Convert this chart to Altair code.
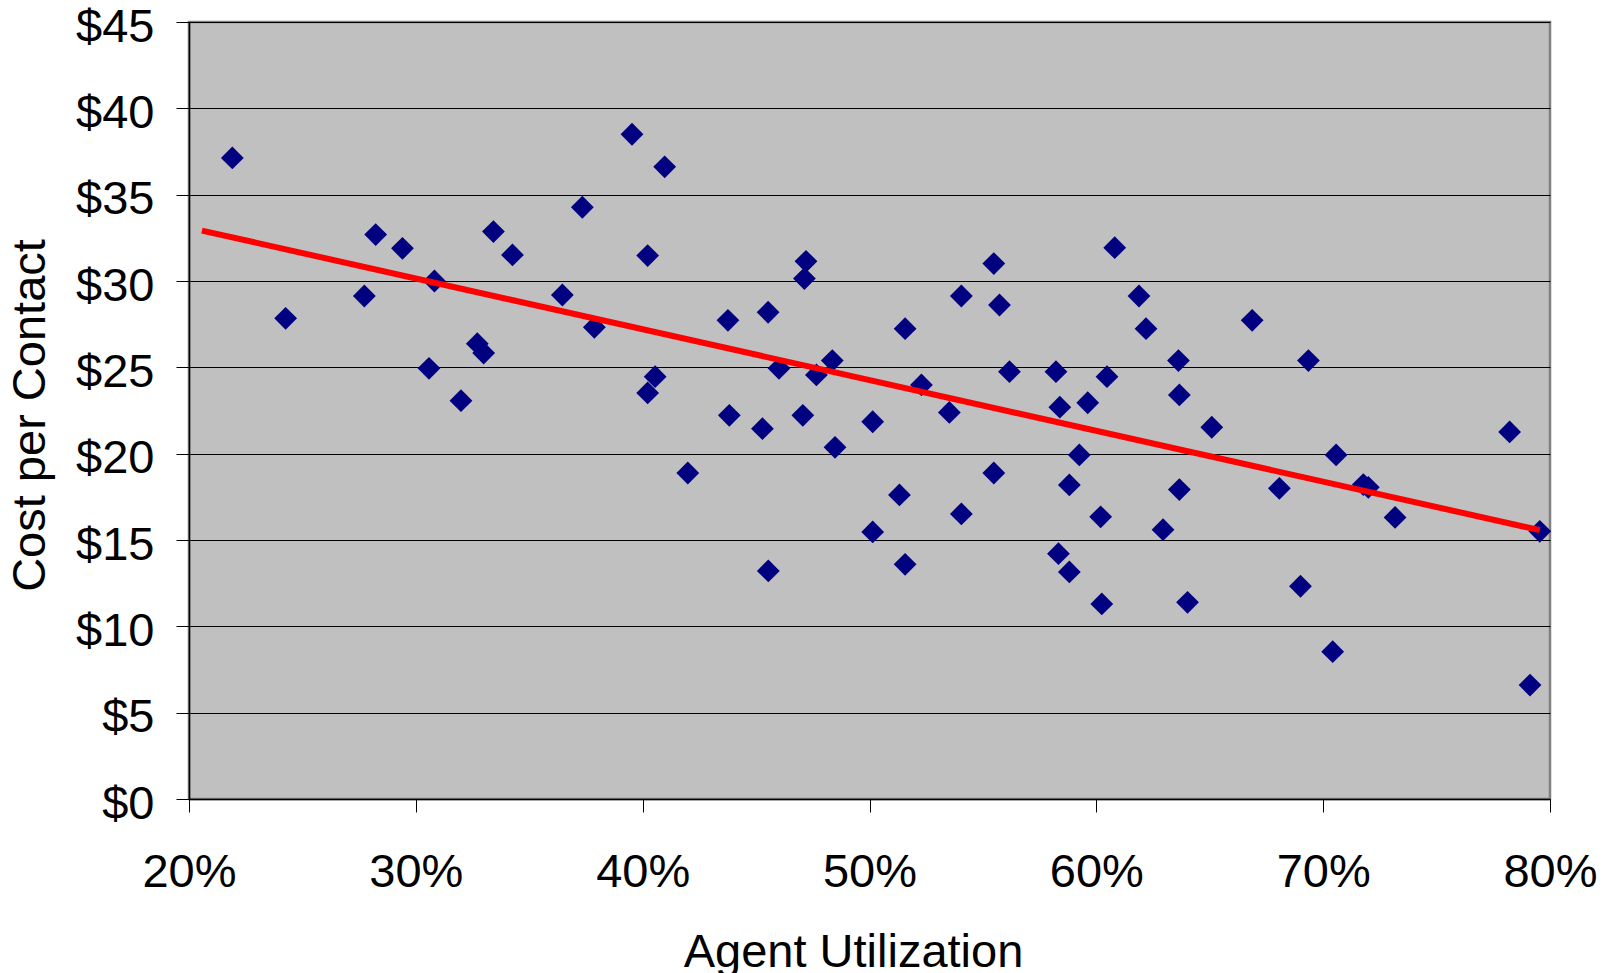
import altair as alt
import pandas as pd

# Agent utilization (%) and cost per contact ($)
utilization = [
    21.91, 24.26, 27.73, 28.23, 29.41, 30.58, 30.82, 31.99, 32.71, 32.99,
    33.42, 34.26, 36.46, 37.34, 37.87, 39.53, 40.22, 40.22, 40.55, 40.97,
    41.99, 43.76, 43.82, 45.28, 45.53, 45.54, 46.01, 47.13, 47.20, 47.06,
    47.66, 48.36, 48.48, 50.14, 50.14, 51.32, 51.57, 51.57, 52.29, 53.52,
    54.05, 54.05, 55.48, 55.48, 55.73, 56.17, 58.22, 58.39, 58.33, 58.81,
    58.81, 59.25, 59.62, 60.19, 60.24, 60.47, 60.81, 61.88, 62.19, 62.94,
    63.62, 63.66, 63.66, 64.02, 65.09, 66.87, 68.07, 69.00, 69.35, 70.42,
    70.57, 71.77, 71.99, 73.17, 78.22, 79.12, 79.55,
]
cost = [
    37.13, 27.84, 29.13, 32.69, 31.89, 24.94, 30.00, 23.07, 26.37, 25.83,
    32.86, 31.51, 29.19, 34.27, 27.32, 38.50, 31.47, 23.52, 24.46, 36.61,
    18.88, 27.72, 22.22, 21.45, 28.19, 13.21, 24.94, 30.14, 31.14, 22.22,
    24.56, 25.39, 20.37, 21.85, 15.47, 17.61, 27.24, 13.59, 23.98, 22.39,
    29.13, 16.51, 31.01, 18.88, 28.61, 24.75, 24.75, 22.69, 14.21, 18.19,
    13.15, 19.93, 22.95, 16.34, 11.30, 24.46, 31.93, 29.13, 27.24, 15.60,
    25.39, 23.40, 17.92, 11.39, 21.53, 27.72, 17.99, 12.32, 25.39, 8.53,
    19.93, 18.21, 18.05, 16.31, 21.26, 6.60, 15.50,
]

# Trend line end points
trend_x = [20.57, 79.55]
trend_y = [32.92, 15.57]

x_ticks = [20, 30, 40, 50, 60, 70, 80]
y_ticks = [0, 5, 10, 15, 20, 25, 30, 35, 40, 45]

points = pd.DataFrame({"util": utilization, "cost": cost})
trend = pd.DataFrame({"util": trend_x, "cost": trend_y})

FONT = "Liberation Sans"

x_scale = alt.Scale(domain=[20, 80], nice=False, zero=False)
y_scale = alt.Scale(domain=[0, 45], nice=False)

x_axis = alt.Axis(
    values=x_ticks,
    labelExpr="datum.value + '%'",
    title="Agent Utilization",
    grid=False,
    tickSize=13,
    tickColor="#000000",
    domainColor="#000000",
    domainWidth=1.5,
    labelFont=FONT,
    labelFontSize=47,
    labelColor="#000000",
    labelPadding=37,
    labelFlush=False,
    titleFont=FONT,
    titleFontSize=47,
    titleFontWeight="normal",
    titleColor="#000000",
    titleX=664,
    titleY=167,
    titleAlign="center",
    titleBaseline="alphabetic",
)

y_axis = alt.Axis(
    values=y_ticks,
    labelExpr="'$' + datum.value",
    title="Cost per Contact",
    grid=True,
    gridColor="#000000",
    gridWidth=1,
    gridOpacity=1,
    tickSize=13,
    tickColor="#000000",
    domainColor="#000000",
    domainWidth=1.5,
    labelFont=FONT,
    labelFontSize=47,
    labelColor="#000000",
    labelPadding=22,
    labelOffset=5,
    labelFlush=False,
    titleFont=FONT,
    titleFontSize=47,
    titleFontWeight="normal",
    titleColor="#000000",
    titleAngle=270,
    titleX=-145,
    titleY=393,
    titleAlign="center",
    titleBaseline="alphabetic",
)

scatter = alt.Chart(points).mark_point(
    shape="diamond", filled=True, size=520, color="#000080", opacity=1
).encode(
    x=alt.X("util:Q", scale=x_scale, axis=x_axis),
    y=alt.Y("cost:Q", scale=y_scale, axis=y_axis),
)

line = alt.Chart(trend).mark_line(color="#FF0000", strokeWidth=6).encode(
    x=alt.X("util:Q", scale=x_scale),
    y=alt.Y("cost:Q", scale=y_scale),
)

chart = alt.layer(scatter, line).properties(
    width=1361,
    height=777,
    autosize=alt.AutoSizeParams(type="none"),
    padding={"left": 189, "top": 22, "right": 56, "bottom": 174},
    background="#FFFFFF",
).configure_view(
    fill="#C0C0C0",
    stroke="#808080",
    strokeWidth=2.5,
)

chart.save("out.html", embed_options={"renderer": "svg", "actions": False})
